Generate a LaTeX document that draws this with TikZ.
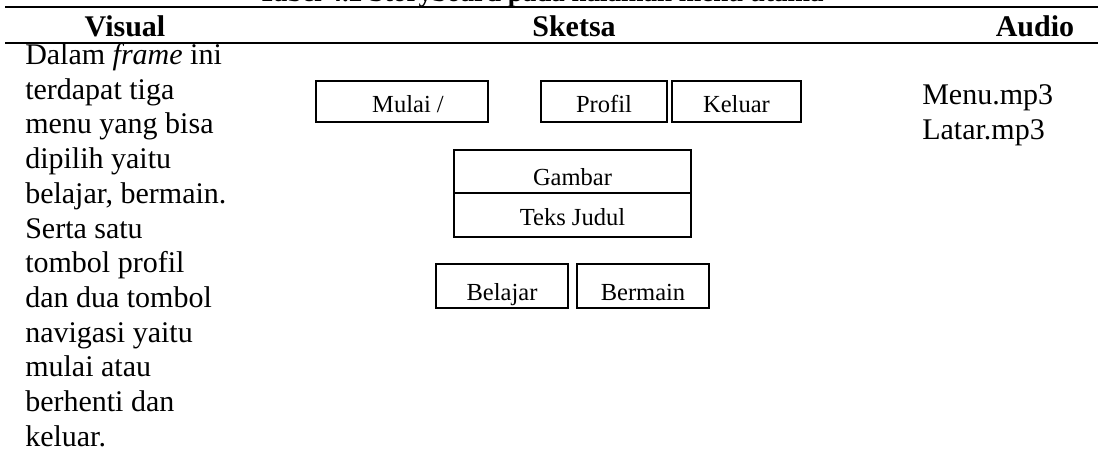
\documentclass[tikz,border=0pt]{standalone}
\usepackage{fontspec}
\setmainfont{Liberation Serif}
\begin{document}
\begin{tikzpicture}[x=0.75pt,y=-0.75pt,
  body/.style={font=\fontsize{22.5}{26}\selectfont, inner sep=0pt, anchor=base west},
  head/.style={font=\bfseries\fontsize{22.5}{26}\selectfont, inner sep=0pt, anchor=base},
  boxframe/.style={draw, line width=1.2pt, inner sep=0pt},
  lbl/.style={font=\fontsize{18.4}{22}\selectfont, inner sep=0pt, anchor=base},
  rulethin/.style={line width=1.1pt},
  rulethick/.style={line width=1.9pt}]
\useasboundingbox (0,0) rectangle (1098,457);
% clipped caption (only its lower edge shows)
\begin{scope}
\clip (0,0) rectangle (1098,6.5);
\node[font=\bfseries\fontsize{20.25}{24}\selectfont, inner sep=0pt, anchor=base] (cap) at (541,1) {Tabel 4.2 Storyboard pada halaman menu utama};
\end{scope}
% rules
\coordinate (r1a) at (5,7);  \coordinate (r1b) at (1098,7);
\coordinate (r2a) at (5,43); \coordinate (r2b) at (1098,43);
\draw[rulethin] (r1a) -- (r1b);
\draw[rulethick] (r2a) -- (r2b);
% headers
\node[head] (hvis) at (125,36) {Visual};
\node[head] (hsk) at (574,36) {Sketsa};
\node[head] (hau) at (1035,36) {Audio};
% left column
\foreach \t [count=\i] in {{Dalam \textit{frame} ini},{terdapat tiga},{menu yang bisa},{dipilih yaitu},{belajar, bermain.},{Serta satu},{tombol profil},{dan dua tombol},{navigasi yaitu},{mulai atau},{berhenti dan},{keluar.}}
  \node[body] (v\i) at (25,{64.5+34.7*(\i-1)}) {\t};
% audio
\node[body] (a1) at (922,104) {Menu.mp3};
\node[body] (a2) at (922,139) {Latar.mp3};
% sketch boxes
\node[boxframe, minimum width=129pt, minimum height=30.75pt] (mulai) at (402,101.5) {};
\node[boxframe, minimum width=94.5pt, minimum height=30.75pt] (profil) at (604,101.5) {};
\node[boxframe, minimum width=96.75pt, minimum height=30.75pt] (keluar) at (736.5,101.5) {};
\node[boxframe, minimum width=177.75pt, minimum height=32.25pt] (gambar) at (572.5,171.5) {};
\node[boxframe, minimum width=177.75pt, minimum height=33pt] (judul) at (572.5,215) {};
\node[boxframe, minimum width=99pt, minimum height=33pt] (belajar) at (502,286) {};
\node[boxframe, minimum width=99pt, minimum height=33pt] (bermain) at (643,286) {};
% labels
\node[lbl] (tmulai) at (408,112) {Mulai /};
\node[lbl] (tprofil) at (604,112) {Profil};
\node[lbl] (tkeluar) at (736.5,112) {Keluar};
\node[lbl] (tgambar) at (572.5,185) {Gambar};
\node[lbl] (tjudul) at (572.5,225) {Teks Judul};
\node[lbl] (tbelajar) at (502,300) {Belajar};
\node[lbl] (tbermain) at (643,300) {Bermain};
\end{tikzpicture}
\end{document}
